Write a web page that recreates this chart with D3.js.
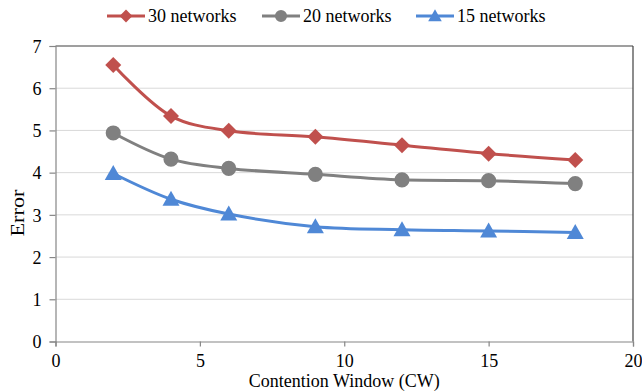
<!DOCTYPE html>
<html>
<head>
<meta charset="utf-8">
<script src="https://cdn.jsdelivr.net/npm/d3@7"></script>
<style>
html,body{margin:0;padding:0;background:#fff;}
svg{display:block;}
text{font-family:"Liberation Serif","Times New Roman",serif;fill:#000;}
</style>
</head>
<body>
<svg id="chart" width="642" height="392"></svg>
<script>
const xValues = [2, 4, 6, 9, 12, 15, 18];
const series30 = [6.55, 5.34, 4.99, 4.85, 4.65, 4.45, 4.30];
const series20 = [4.94, 4.32, 4.10, 3.96, 3.83, 3.81, 3.74];
const series15 = [3.98, 3.37, 3.02, 2.72, 2.65, 2.62, 2.58];
const seriesNames = ["30 networks", "20 networks", "15 networks"];
const seriesColors = ["#C0504D", "#808080", "#4F88D6"];
const seriesMarkers = ["diamond", "circle", "triangle"];
const xTicks = [0, 5, 10, 15, 20];
const yTicks = [0, 1, 2, 3, 4, 5, 6, 7];

const allSeries = [series30, series20, series15];

const svg = d3.select("#chart");
const x = d3.scaleLinear().domain([0, 20]).range([55.5, 633]);
const y = d3.scaleLinear().domain([0, 7]).range([341.5, 46]);

// gridlines
svg.append("g").selectAll("line").data(yTicks.filter(d => d > 0 && d < 7)).enter()
  .append("line")
  .attr("x1", x(0)).attr("x2", x(20))
  .attr("y1", d => y(d)).attr("y2", d => y(d))
  .attr("stroke", "#D9D9D9").attr("stroke-width", 1);

// plot border top and right
svg.append("line").attr("x1", x(0)).attr("x2", x(20)).attr("y1", y(7)).attr("y2", y(7))
  .attr("stroke", "#404040").attr("stroke-width", 1.2);
svg.append("line").attr("x1", x(20)).attr("x2", x(20)).attr("y1", y(7)).attr("y2", y(0))
  .attr("stroke", "#404040").attr("stroke-width", 1.2);

// axes
const xAxis = svg.append("g").attr("transform", `translate(0,${y(0)})`)
  .call(d3.axisBottom(x).tickValues(xTicks).tickSize(5).tickPadding(8).tickFormat(d3.format("d")));
const yAxis = svg.append("g").attr("transform", `translate(${x(0)},0)`)
  .call(d3.axisLeft(y).tickValues(yTicks).tickSize(6).tickPadding(8).tickFormat(d3.format("d")));
[xAxis, yAxis].forEach(a => {
  a.attr("font-family", null).attr("font-size", null);
  a.select(".domain").attr("stroke", "#868686").attr("stroke-width", 1.2);
  a.selectAll(".tick line").attr("stroke", "#868686").attr("stroke-width", 1.2);
  a.selectAll(".tick text").style("font-family", "'Liberation Serif',serif").style("font-size", "18px").attr("fill", "#000");
});
yAxis.selectAll(".tick text").attr("dy", "0.35em");

// axis titles
svg.append("text").attr("x", (x(0) + x(20)) / 2).attr("y", 387)
  .attr("text-anchor", "middle").style("font-size", "19px")
  .attr("textLength", 191).attr("lengthAdjust", "spacingAndGlyphs")
  .text("Contention Window (CW)");
svg.append("text").attr("transform", "translate(24,213) rotate(-90)")
  .attr("text-anchor", "middle").style("font-size", "18px")
  .attr("textLength", 47).attr("lengthAdjust", "spacingAndGlyphs")
  .text("Error");

function markerPath(type) {
  if (type === "diamond") return "M0,-8L8,0L0,8L-8,0Z";
  if (type === "circle") return d3.symbol().type(d3.symbolCircle).size(180)();
  return "M0,-8.5L8.5,6.5L-8.5,6.5Z";
}

const line = d3.line().x((d, i) => x(xValues[i])).y(d => y(d)).curve(d3.curveCatmullRom.alpha(0.5));

allSeries.forEach((vals, si) => {
  svg.append("path").datum(vals).attr("d", line)
    .attr("fill", "none").attr("stroke", seriesColors[si]).attr("stroke-width", 3);
  svg.append("g").selectAll("path").data(vals).enter().append("path")
    .attr("d", markerPath(seriesMarkers[si]))
    .attr("transform", (d, i) => `translate(${x(xValues[i])},${y(d)})`)
    .attr("fill", seriesColors[si]);
});

// legend
const legendX = [107, 262, 416];
seriesNames.forEach((name, si) => {
  const g = svg.append("g").attr("transform", `translate(${legendX[si]},16)`);
  g.append("line").attr("x1", 0).attr("x2", 38).attr("y1", 0).attr("y2", 0)
    .attr("stroke", seriesColors[si]).attr("stroke-width", 3);
  g.append("path").attr("d", markerPath(seriesMarkers[si]))
    .attr("transform", "translate(19,0) scale(0.8)").attr("fill", seriesColors[si]);
  g.append("text").attr("x", 41).attr("y", 0).attr("dy", "0.35em")
    .style("font-size", "18px").text(name);
});
</script>
</body>
</html>
